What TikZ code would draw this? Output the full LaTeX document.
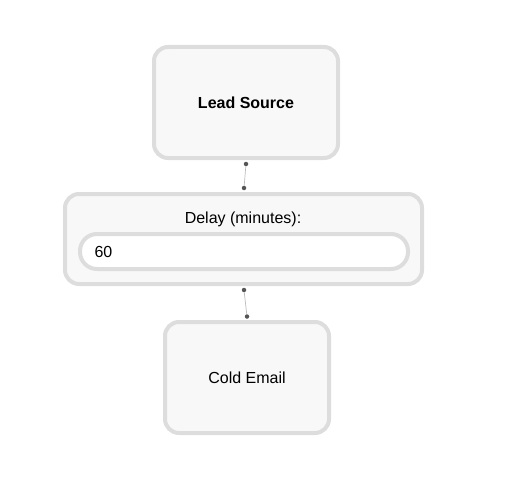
\documentclass[tikz,border=0pt]{standalone}
\usepackage{fontspec}
\setmainfont{Liberation Sans}
\usetikzlibrary{positioning}

\definecolor{cardline}{HTML}{DDDDDD}
\definecolor{cardfill}{HTML}{F8F8F8}
\definecolor{wirecol}{HTML}{BBBBBB}
\definecolor{pincol}{HTML}{555555}

\begin{document}
\begin{tikzpicture}[x=1pt,y=-1pt,
  card/.style={draw=cardline, line width=4pt, fill=cardfill, rounded corners=14pt,
    inner sep=0pt, font=\fontsize{16}{19}\selectfont},
  field/.style={draw=cardline, line width=4pt, fill=white, rounded corners=17pt,
    inner sep=0pt, minimum width=328pt, minimum height=35pt},
  pin/.style={circle, fill=pincol, inner sep=0pt, minimum size=4.5pt},
  wire/.style={draw=wirecol, line width=0.7pt}]
\useasboundingbox (0,0) rectangle (512,487);

% boxes
\node[card, minimum width=184pt, minimum height=111pt] (lead) at (246,102.5) {\bfseries Lead Source};
\node[card, minimum width=357pt, minimum height=90pt] (delay) at (243.5,239) {};
\node[font=\fontsize{16}{19}\selectfont] (delaylbl) at (243,219) {Delay (minutes):};
\node[field] (delayfld) at (244,251.5) {};
\node[font=\fontsize{16}{19}\selectfont, anchor=west] (delayval) at (91,252) {60};
\node[card, minimum width=164pt, minimum height=111pt] (cold) at (247,377.5) {Cold Email};

% connectors
\node[pin] (p1) at ([yshift=-4pt]lead.south) {};
\node[pin] (p2) at ([xshift=0.5pt,yshift=4pt]delay.north) {};
\node[pin] (p3) at ([xshift=0.5pt,yshift=-4pt]delay.south) {};
\node[pin] (p4) at ([yshift=3.5pt]cold.north) {};
\draw[wire] (p1) -- (p2);
\draw[wire] (p3) -- (p4);
\end{tikzpicture}
\end{document}
